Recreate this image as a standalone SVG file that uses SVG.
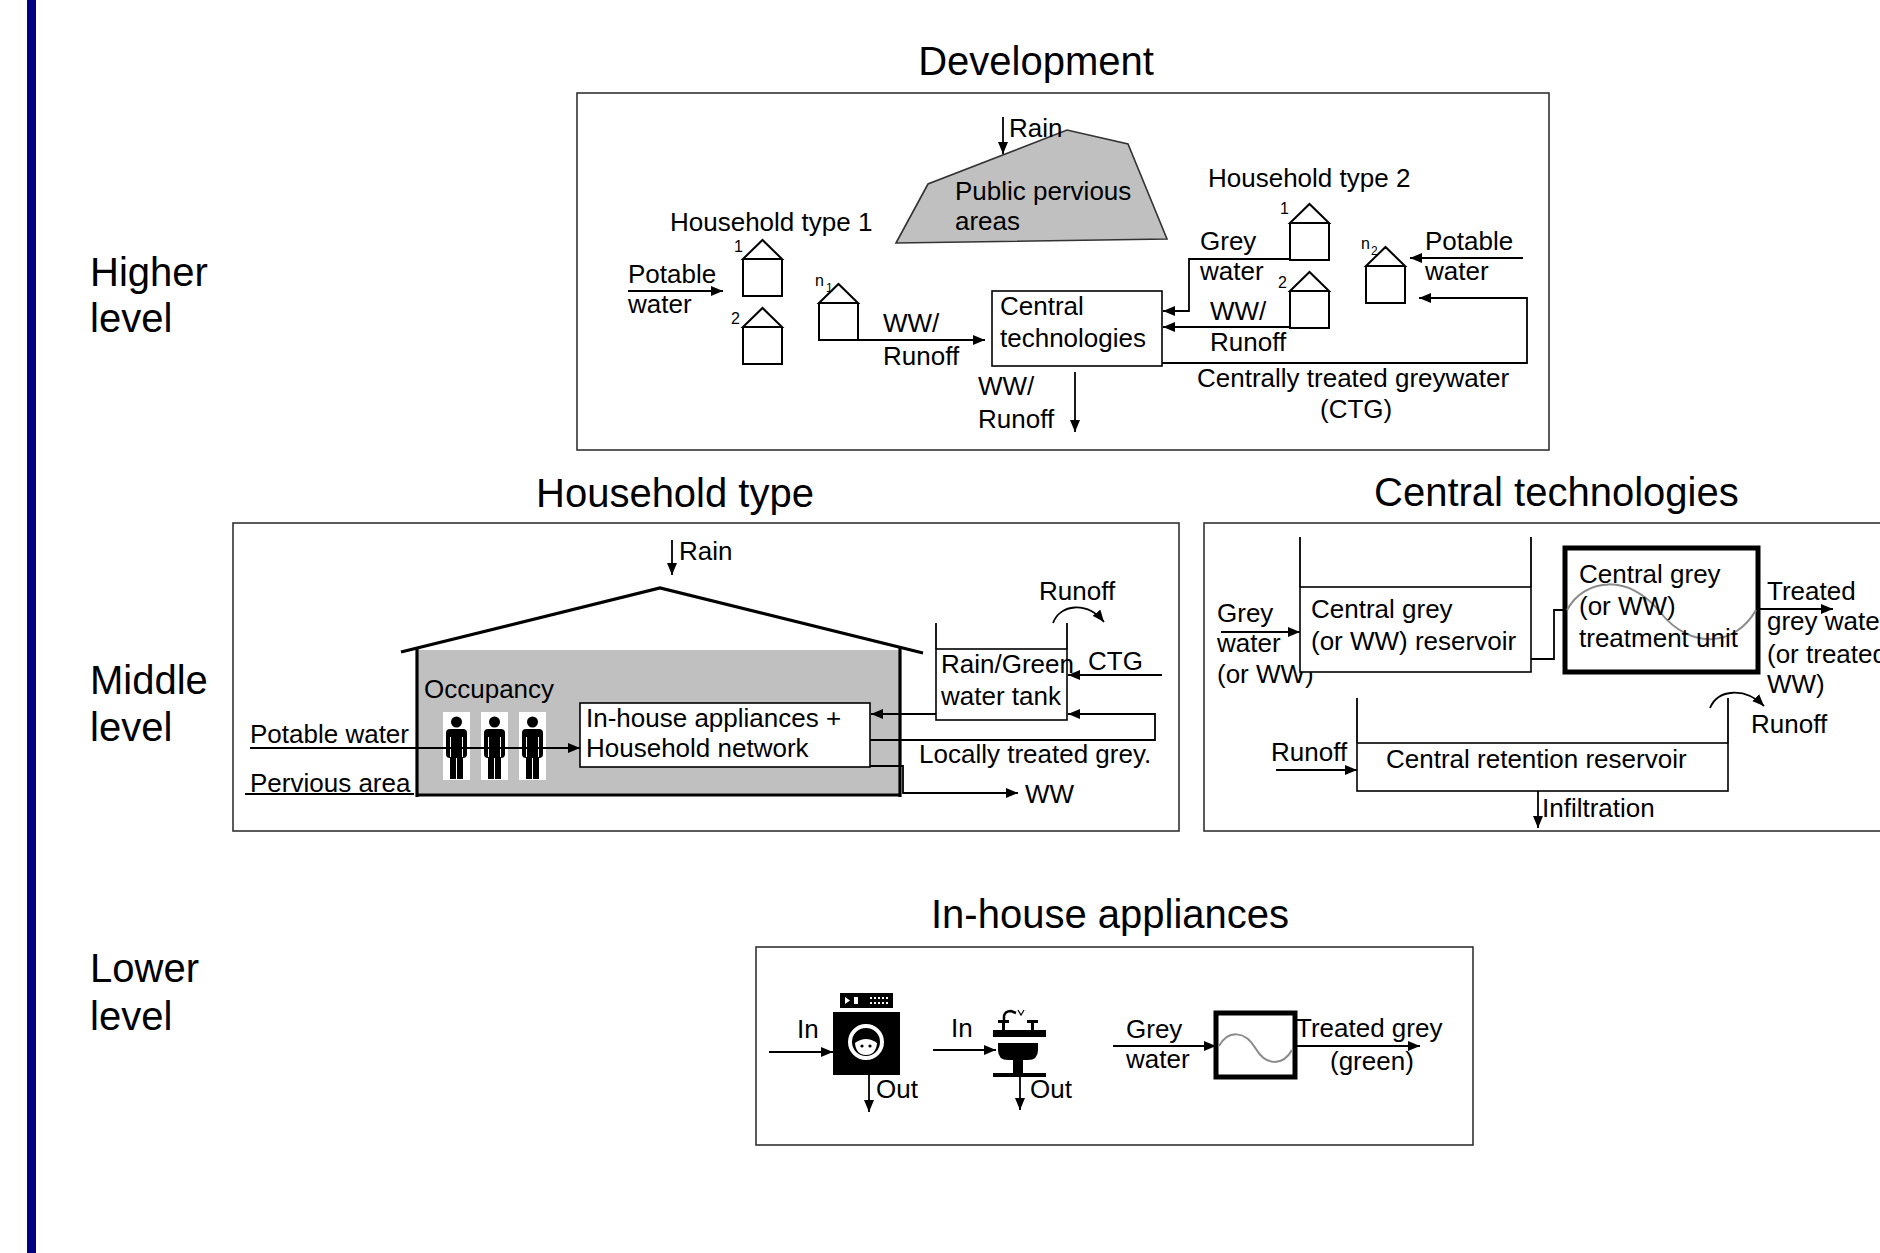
<svg xmlns="http://www.w3.org/2000/svg" width="1880" height="1253" viewBox="0 0 1880 1253">
<style>
text{font-family:"Liberation Sans",Arial,sans-serif;fill:#000}
.t{font-size:26px}
.h{font-size:40px}
.s{font-size:16px}
.ss{font-size:12px}
.frame{fill:#fff;stroke:#333;stroke-width:1.6}
.box{fill:#fff;stroke:#000;stroke-width:1.6}
.ln{fill:none;stroke:#000;stroke-width:1.8}
.arr{fill:none;stroke:#000;stroke-width:1.8;marker-end:url(#ah)}
.thick{fill:none;stroke:#000;stroke-width:3.2}
.sine{fill:none;stroke:#8a8a8a;stroke-width:2}
</style>
<defs>
<marker id="ah" viewBox="0 0 12 10" refX="12" refY="5" markerWidth="12" markerHeight="10" markerUnits="userSpaceOnUse" orient="auto">
<path d="M0,0 L12,5 L0,10 Z" fill="#000"/>
</marker>
<g id="house"><path d="M0,19 L19.5,0 L39,19 Z M0,19 V56 H39 V19" fill="#fff" stroke="#000" stroke-width="2"/></g>
<g id="person">
<rect x="0" y="0" width="27" height="68" fill="#fff"/>
<circle cx="13.5" cy="10" r="5.5" fill="#000"/>
<rect x="3" y="17" width="21" height="29" rx="4" fill="#000"/>
<rect x="7" y="40" width="6" height="27" fill="#000"/>
<rect x="14" y="40" width="6" height="27" fill="#000"/>
<line x1="7.5" y1="25" x2="7.5" y2="45" stroke="#fff" stroke-width="1"/>
<line x1="19.5" y1="25" x2="19.5" y2="45" stroke="#fff" stroke-width="1"/>
</g>
</defs>
<rect width="1880" height="1253" fill="#fff"/>
<rect x="27" y="0" width="9" height="1253" fill="#000080"/>

<g id="level-labels">
<text class="h" x="90" y="286">Higher</text>
<text class="h" x="90" y="332">level</text>
<text class="h" x="90" y="694">Middle</text>
<text class="h" x="90" y="741">level</text>
<text class="h" x="90" y="982">Lower</text>
<text class="h" x="90" y="1030">level</text>
</g>

<!-- ================= DEVELOPMENT ================= -->
<g id="development">
<text class="h" x="1036" y="75" text-anchor="middle">Development</text>
<rect class="frame" x="577" y="93" width="972" height="357"/>
</g>
<g id="public-pervious">
<polygon points="896,243 928,184 1067,130 1128,144 1167,239" fill="#c0c0c0" stroke="#333" stroke-width="1.6"/>
<text class="t" x="955" y="200">Public pervious</text>
<text class="t" x="955" y="230">areas</text>
<text class="t" x="1009" y="137">Rain</text>
</g>
<g id="household-type-1">
<text class="t" x="670" y="231">Household type 1</text>
<use href="#house" x="743" y="240"/>
<use href="#house" x="743" y="308"/>
<use href="#house" x="819" y="284"/>
<text class="s" x="734" y="252">1</text>
<text class="s" x="731" y="324">2</text>
<text class="s" x="815" y="286">n</text>
<text class="ss" x="826" y="292">1</text>
<text class="t" x="628" y="283">Potable</text>
<text class="t" x="628" y="313">water</text>
<text class="t" x="883" y="332">WW/</text>
<text class="t" x="883" y="365">Runoff</text>
</g>
<g id="central-tech-dev">
<rect class="box" x="992" y="291" width="170" height="75"/>
<text class="t" x="1000" y="315">Central</text>
<text class="t" x="1000" y="347">technologies</text>
<text class="t" x="978" y="395">WW/</text>
<text class="t" x="978" y="428">Runoff</text>
</g>
<g id="household-type-2">
<text class="t" x="1208" y="187">Household type 2</text>
<use href="#house" x="1290" y="204"/>
<use href="#house" x="1290" y="272"/>
<use href="#house" x="1366" y="247"/>
<text class="s" x="1280" y="214">1</text>
<text class="s" x="1278" y="288">2</text>
<text class="s" x="1361" y="249">n</text>
<text class="ss" x="1371" y="255">2</text>
<text class="t" x="1200" y="250">Grey</text>
<text class="t" x="1200" y="280">water</text>
<text class="t" x="1210" y="320">WW/</text>
<text class="t" x="1210" y="351">Runoff</text>
<text class="t" x="1425" y="250">Potable</text>
<text class="t" x="1425" y="280">water</text>
<text class="t" x="1197" y="387">Centrally treated greywater</text>
<text class="t" x="1320" y="418">(CTG)</text>
</g>

<!-- ================= HOUSEHOLD TYPE ================= -->
<g id="household-type">
<text class="h" x="536" y="507">Household type</text>
<rect class="frame" x="233" y="523" width="946" height="308"/>
<rect x="418" y="650" width="482" height="145" fill="#c0c0c0"/>
<polyline class="thick" points="401,652 660,588 923,653"/>
<polyline class="thick" points="417,648 417,797"/>
<polyline class="thick" points="900,648 900,797"/>
<polyline class="thick" points="416,795 901,795"/>
<text class="t" x="679" y="560">Rain</text>
<text class="t" x="424" y="698">Occupancy</text>
<text class="t" x="250" y="743">Potable water</text>
<text class="t" x="250" y="792">Pervious area</text>
<line class="ln" x1="245" y1="794" x2="414" y2="794"/>
</g>
<g id="occupancy">
<use href="#person" x="443" y="712"/>
<use href="#person" x="481" y="712"/>
<use href="#person" x="519" y="712"/>
</g>
<g id="appliances-network">
<rect class="box" x="580" y="703" width="290" height="64"/>
<text class="t" x="586" y="727">In-house appliances +</text>
<text class="t" x="586" y="757">Household network</text>
</g>
<g id="rain-green-tank">
<rect class="box" x="936" y="649" width="131" height="71"/>
<line class="ln" x1="936" y1="623" x2="936" y2="649"/>
<line class="ln" x1="1067" y1="623" x2="1067" y2="649"/>
<text class="t" x="941" y="673">Rain/Green</text>
<text class="t" x="941" y="705">water tank</text>
<text class="t" x="1039" y="600">Runoff</text>
<text class="t" x="1088" y="670">CTG</text>
<text class="t" x="919" y="763">Locally treated grey.</text>
<text class="t" x="1025" y="803">WW</text>
</g>

<!-- ================= CENTRAL TECHNOLOGIES ================= -->
<g id="central-technologies">
<text class="h" x="1374" y="506">Central technologies</text>
<rect class="frame" x="1204" y="523" width="720" height="308"/>
<text class="t" x="1217" y="622">Grey</text>
<text class="t" x="1217" y="652">water</text>
<text class="t" x="1217" y="683">(or WW)</text>
<text class="t" x="1767" y="600">Treated</text>
<text class="t" x="1767" y="630">grey water</text>
<text class="t" x="1767" y="663">(or treated</text>
<text class="t" x="1767" y="693">WW)</text>
<text class="t" x="1751" y="733">Runoff</text>
<text class="t" x="1271" y="761">Runoff</text>
<text class="t" x="1542" y="817">Infiltration</text>
</g>
<g id="central-grey-reservoir">
<rect class="box" x="1300" y="587" width="231" height="85"/>
<line class="ln" x1="1300" y1="537" x2="1300" y2="587"/>
<line class="ln" x1="1531" y1="537" x2="1531" y2="587"/>
<text class="t" x="1311" y="618">Central grey</text>
<text class="t" x="1311" y="650">(or WW) reservoir</text>
</g>
<g id="central-treatment-unit">
<rect x="1565" y="548" width="193" height="124" fill="#fff" stroke="#000" stroke-width="5"/>
<path class="sine" d="M1567,610 C1585,577 1630,574 1660,612 C1690,650 1735,647 1756,610"/>
<text class="t" x="1579" y="583">Central grey</text>
<text class="t" x="1579" y="615">(or WW)</text>
<text class="t" x="1579" y="647">treatment unit</text>
</g>
<g id="central-retention-reservoir">
<rect class="box" x="1357" y="743" width="371" height="48"/>
<line class="ln" x1="1357" y1="698" x2="1357" y2="743"/>
<line class="ln" x1="1728" y1="698" x2="1728" y2="743"/>
<text class="t" x="1386" y="768">Central retention reservoir</text>
</g>

<!-- ================= IN-HOUSE APPLIANCES ================= -->
<g id="in-house-appliances">
<text class="h" x="1110" y="928" text-anchor="middle">In-house appliances</text>
<rect class="frame" x="756" y="947" width="717" height="198"/>
<text class="t" x="797" y="1038">In</text>
<text class="t" x="876" y="1098">Out</text>
<text class="t" x="951" y="1037">In</text>
<text class="t" x="1030" y="1098">Out</text>
<text class="t" x="1126" y="1038">Grey</text>
<text class="t" x="1126" y="1068">water</text>
<text class="t" x="1296" y="1037">Treated grey</text>
<text class="t" x="1330" y="1070">(green)</text>
</g>
<g id="washing-machine">
<rect x="833" y="1012" width="67" height="63" fill="#000"/>
<rect x="840" y="993" width="53" height="15" fill="#000"/>
<polygon points="845,997 845,1004 850,1000.5" fill="#fff"/>
<rect x="854" y="997" width="4" height="7" fill="#fff"/>
<rect x="870" y="997" width="2" height="2" fill="#fff"/>
<rect x="874" y="997" width="2" height="2" fill="#fff"/>
<rect x="878" y="997" width="2" height="2" fill="#fff"/>
<rect x="882" y="997" width="2" height="2" fill="#fff"/>
<rect x="886" y="997" width="2" height="2" fill="#fff"/>
<rect x="870" y="1002" width="2" height="2" fill="#fff"/>
<rect x="874" y="1002" width="2" height="2" fill="#fff"/>
<rect x="878" y="1002" width="2" height="2" fill="#fff"/>
<rect x="882" y="1002" width="2" height="2" fill="#fff"/>
<rect x="886" y="1002" width="2" height="2" fill="#fff"/>
<circle cx="866" cy="1042" r="16" fill="#000" stroke="#fff" stroke-width="4"/>
<path d="M855,1043 Q866,1035 877,1043 Q876,1055 866,1055 Q856,1055 855,1043 Z" fill="#fff"/>
<circle cx="862" cy="1046" r="1.6" fill="#000"/>
<circle cx="870" cy="1046" r="1.6" fill="#000"/>
</g>
<g id="sink">
<rect x="993" y="1030" width="53" height="7" fill="#000"/>
<rect x="1002" y="1022" width="3" height="8" fill="#000"/>
<rect x="998" y="1020" width="11" height="3" fill="#000"/>
<rect x="1031" y="1022" width="3" height="8" fill="#000"/>
<rect x="1027" y="1020" width="11" height="3" fill="#000"/>
<path d="M1004,1020 V1016 Q1005,1011 1011,1011 L1016,1013" fill="none" stroke="#000" stroke-width="2.5"/>
<path d="M1018,1010 L1021,1015 L1024,1010" fill="none" stroke="#000" stroke-width="1.2"/>
<path d="M998,1043 H1038 V1050 Q1038,1060 1028,1060 H1008 Q998,1060 998,1050 Z" fill="#000"/>
<rect x="1013" y="1059" width="10" height="15" fill="#000"/>
<rect x="993" y="1073" width="53" height="4" fill="#000"/>
</g>
<g id="local-treatment-unit">
<rect x="1216" y="1013" width="79" height="64" fill="#fff" stroke="#000" stroke-width="5"/>
<path class="sine" d="M1219,1046 C1228,1030 1245,1030 1256,1049 C1266,1066 1283,1066 1292,1050"/>
</g>

<!-- ================= CONNECTORS ================= -->
<g id="connectors">
<line class="arr" x1="1003" y1="117" x2="1003" y2="154"/>
<line class="arr" x1="628" y1="291" x2="723" y2="291"/>
<line class="arr" x1="858" y1="340" x2="985" y2="340"/>
<line class="arr" x1="1075" y1="372" x2="1075" y2="432"/>
<polyline class="arr" points="1290,259 1189,259 1189,311 1163,311"/>
<line class="arr" x1="1290" y1="327" x2="1163" y2="327"/>
<line class="arr" x1="1523" y1="258" x2="1410" y2="258"/>
<polyline class="arr" points="1162,363 1527,363 1527,298 1419,298"/>
<line class="arr" x1="672" y1="540" x2="672" y2="575"/>
<line class="arr" x1="250" y1="748" x2="580" y2="748"/>
<path class="arr" d="M1053,623 C1060,604 1087,601 1104,622"/>
<line class="arr" x1="1162" y1="675" x2="1068" y2="675"/>
<line class="arr" x1="936" y1="714" x2="871" y2="714"/>
<polyline class="arr" points="870,740 1155,740 1155,714 1068,714"/>
<polyline class="arr" points="870,766 903,766 903,793 1018,793"/>
<line class="arr" x1="1221" y1="632" x2="1300" y2="632"/>
<polyline class="ln" points="1531,659 1554,659 1554,610 1565,610"/>
<line class="arr" x1="1758" y1="609" x2="1833" y2="609"/>
<path class="arr" d="M1710,708 C1718,689 1745,687 1764,706"/>
<line class="arr" x1="1276" y1="770" x2="1357" y2="770"/>
<line class="arr" x1="1538" y1="791" x2="1538" y2="828"/>
<line class="arr" x1="769" y1="1052" x2="833" y2="1052"/>
<line class="arr" x1="869" y1="1075" x2="869" y2="1112"/>
<line class="arr" x1="933" y1="1050" x2="996" y2="1050"/>
<line class="arr" x1="1020" y1="1077" x2="1020" y2="1110"/>
<line class="arr" x1="1113" y1="1046" x2="1216" y2="1046"/>
<line class="arr" x1="1295" y1="1046" x2="1420" y2="1046"/>
</g>
</svg>
